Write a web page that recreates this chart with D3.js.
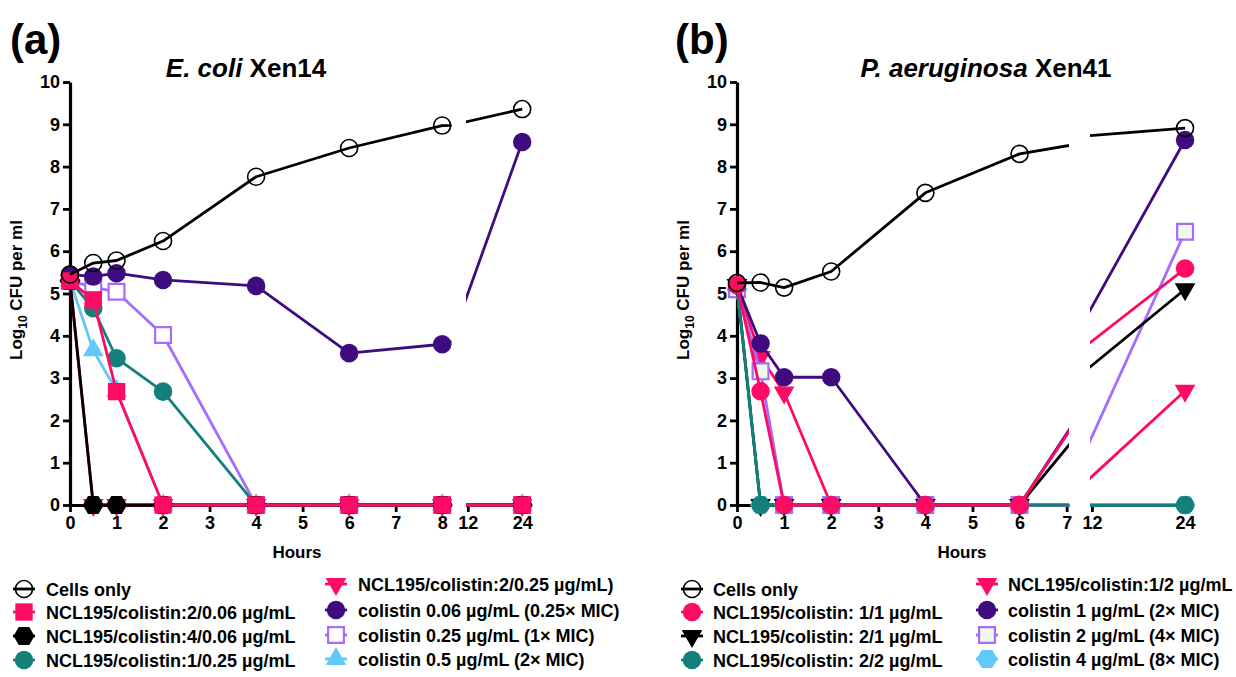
<!DOCTYPE html>
<html>
<head>
<meta charset="utf-8">
<script src="https://cdn.jsdelivr.net/npm/d3@7"></script>
<style>
  body { margin: 0; background: #fff; }
  text { font-family: "Liberation Sans", Arial, sans-serif; font-weight: bold; }
</style>
</head>
<body>
<svg id="chart" width="1236" height="677"></svg>
<script>
// ---------- data (a) E. coli Xen14 ----------
var hoursA = [0, 0.5, 1, 2, 4, 6, 8, 24];
var labelsA = [
  "Cells only",
  "NCL195/colistin:2/0.06 µg/mL",
  "NCL195/colistin:4/0.06 µg/mL",
  "NCL195/colistin:1/0.25 µg/mL",
  "NCL195/colistin:2/0.25 µg/mL)",
  "colistin 0.06 µg/mL (0.25× MIC)",
  "colistin 0.25 µg/mL (1× MIC)",
  "colistin 0.5 µg/mL (2× MIC)"
];
var cellsA   = [5.45, 5.72, 5.78, 6.24, 7.76, 8.44, 8.97, 9.36];
var ncl2_006 = [5.3, 4.85, 2.68, 0, 0, 0, 0, 0];
var ncl4_006 = [5.3, 0, 0, 0, 0, 0, 0, 0];
var ncl1_025 = [5.3, 4.65, 3.47, 2.68, 0, 0, 0, 0];
var ncl2_025 = [5.3, 0, 0, 0, 0, 0, 0, 0];
var col006   = [5.45, 5.4, 5.48, 5.32, 5.18, 3.59, 3.8, 8.58];
var col025   = [5.3, 5.15, 5.04, 4.02, 0, 0, 0, 0];
var col05    = [5.3, 3.66, 2.7, 0, 0, 0, 0, 0];

// ---------- data (b) P. aeruginosa Xen41 (8 h values fall inside the axis break) ----------
var hoursB = [0, 0.5, 1, 2, 4, 6, 8, 24];
var labelsB = [
  "Cells only",
  "NCL195/colistin: 1/1 µg/mL",
  "NCL195/colistin: 2/1 µg/mL",
  "NCL195/colistin: 2/2 µg/mL",
  "NCL195/colistin:1/2 µg/mL",
  "colistin 1 µg/mL (2× MIC)",
  "colistin 2 µg/mL (4× MIC)",
  "colistin 4 µg/mL (8× MIC)"
];
var cellsB = [5.25, 5.26, 5.14, 5.52, 7.38, 8.3, 8.68, 8.91];
var ncl1_1 = [5.2, 2.69, 0, 0, 0, 0, 3.3, 5.59];
var ncl2_1 = [5.2, 0, 0, 0, 0, 0, 2.7, 5.1];
var ncl2_2 = [5.2, 0, 0, 0, 0, 0, 0, 0];
var ncl1_2 = [5.2, 3.5, 2.66, 0, 0, 0, 0, 2.7];
var col1   = [5.2, 3.82, 3.02, 3.02, 0, 0, 3.37, 8.63];
var col2   = [5.1, 3.16, 0, 0, 0, 0, 0, 6.46];
var col4   = [5.1, 0, 0, 0, 0, 0, 0, 0];

// ---------- axis ticks ----------
var yTicks = [0, 1, 2, 3, 4, 5, 6, 7, 8, 9, 10];
var xTicksA1 = [0, 1, 2, 3, 4, 5, 6, 7, 8];
var xTicksB1 = [0, 1, 2, 3, 4, 5, 6, 7];
var xTicks2 = [12, 24];

var pink = "#ff0a64", black = "#000000", teal = "#148079", indigo = "#3f0c80",
    purple = "#a46cff", sky = "#62c8f6";

var svg = d3.select("#chart");

function hexPath(r) {
  var pts = d3.range(6).map(function(i) {
    var a = i * Math.PI / 3;
    return [r * Math.cos(a), r * Math.sin(a)];
  });
  return "M" + pts.join("L") + "Z";
}

// draws one marker centred at 0,0 inside g
function marker(g, shape, color, fill) {
  var p;
  if (shape == "openCircle") {
    g.append("path").attr("d", d3.symbol(d3.symbolCircle, 227)())
      .attr("fill", "none").attr("stroke", black).attr("stroke-width", 1.6);
    return;
  }
  if (shape == "circle") p = g.append("path").attr("d", d3.symbol(d3.symbolCircle, 270)());
  if (shape == "square") p = g.append("path").attr("d", d3.symbol(d3.symbolSquare, 300)());
  if (shape == "hexagon") p = g.append("path").attr("d", hexPath(10.5));
  if (shape == "triangle") p = g.append("path").attr("d", d3.symbol(d3.symbolTriangle, 185)());
  if (shape == "triangleDown") p = g.append("path").attr("d", d3.symbol(d3.symbolTriangle, 185)())
      .attr("transform", "rotate(180)");
  if (shape == "openSquare") {
    g.append("path").attr("d", d3.symbol(d3.symbolSquare, 250)())
      .attr("fill", fill).attr("stroke", color).attr("stroke-width", 2.2);
    return;
  }
  p.attr("fill", color);
}

function drawPanel(p) {
  var root = svg.append("g");
  var y = d3.scaleLinear().domain([0, 10]).range([505, 82]);
  var x1 = d3.scaleLinear().domain(p.seg1).range(p.seg1Px);
  var x2 = d3.scaleLinear().domain(p.seg2).range(p.seg2Px);

  // clip regions for the two axis segments
  var defs = root.append("defs");
  defs.append("clipPath").attr("id", p.id + "c1").append("rect")
    .attr("x", p.seg1Px[0] - 30).attr("y", 0).attr("width", p.seg1Px[1] - p.seg1Px[0] + 30).attr("height", 677);
  defs.append("clipPath").attr("id", p.id + "c2").append("rect")
    .attr("x", p.seg2Px[0]).attr("y", 0).attr("width", p.seg2Px[1] - p.seg2Px[0] + 30).attr("height", 677);

  // axes
  function styleAxis(g) {
    g.attr("font-family", null).attr("font-size", null).attr("color", black);
    g.select(".domain").attr("stroke-width", 3.2);
    g.selectAll(".tick line").attr("stroke-width", 2.8);
    g.selectAll(".tick text").attr("font-size", 18).attr("font-weight", "bold");
  }
  var fmt = d3.format("d");
  root.append("g").attr("transform", "translate(" + p.seg1Px[0] + ",0)")
    .call(d3.axisLeft(y).tickValues(yTicks).tickFormat(fmt).tickSize(7).tickSizeOuter(0).tickPadding(3))
    .call(styleAxis);
  root.append("g").attr("transform", "translate(0,505)")
    .call(d3.axisBottom(x1).tickValues(p.ticks1).tickFormat(fmt).tickSize(7).tickSizeOuter(0).tickPadding(4))
    .call(styleAxis);
  root.append("g").attr("transform", "translate(0,505)")
    .call(d3.axisBottom(x2).tickValues(xTicks2).tickFormat(fmt).tickSize(7).tickSizeOuter(0).tickPadding(4))
    .call(styleAxis);

  // series, drawn bottom to top
  p.order.forEach(function(i) {
    var s = p.series[i];
    var pts = p.hours.map(function(h, k) { return { h: h, v: s.values[k] }; });
    [[x1, "c1", p.seg1], [x2, "c2", p.seg2]].forEach(function(seg) {
      var xs = seg[0];
      var line = d3.line().x(function(d) { return xs(d.h); }).y(function(d) { return y(d.v); });
      root.append("path").attr("d", line(pts))
        .attr("clip-path", "url(#" + p.id + seg[1] + ")")
        .attr("fill", "none").attr("stroke", s.color).attr("stroke-width", 2.8)
        .attr("stroke-linejoin", "round");
      pts.filter(function(d) { return d.h >= seg[2][0] && d.h <= seg[2][1]; }).forEach(function(d) {
        var g = root.append("g").attr("transform", "translate(" + xs(d.h) + "," + y(d.v) + ")");
        marker(g, s.shape, s.color, s.fill);
      });
    });
  });

  // titles
  root.append("text").attr("x", p.tagX).attr("y", 54).attr("font-size", 42).text(p.tag);
  var t = root.append("text").attr("x", p.titleX).attr("y", 77).attr("font-size", 26)
    .attr("text-anchor", "middle");
  t.append("tspan").attr("font-style", "italic").text(p.titleIt);
  t.append("tspan").text(" " + p.titleRest);

  var yt = root.append("text").attr("transform", "translate(" + p.yTitleX + ",290) rotate(-90)")
    .attr("text-anchor", "middle").attr("font-size", 17);
  yt.append("tspan").text("Log");
  yt.append("tspan").attr("font-size", 12).attr("dy", 5).text("10");
  yt.append("tspan").attr("dy", -5).text(" CFU per ml");

  root.append("text").attr("x", (p.seg1Px[0] + p.seg2Px[1]) / 2).attr("y", 558)
    .attr("text-anchor", "middle").attr("font-size", 17).text("Hours");

  // legend, two columns of four
  p.series.forEach(function(s, i) {
    var col = i < 4 ? 0 : 1, row = i % 4;
    var sx = p.legX[col], ty = p.legY[col][row];
    var g = root.append("g").attr("transform", "translate(" + sx + "," + ty + ")");
    g.append("line").attr("x1", -11).attr("x2", 11).attr("stroke", s.color).attr("stroke-width", 2.8);
    marker(g, s.shape, s.color, s.fill);
    root.append("text").attr("x", sx + p.legGap).attr("y", ty + 6.5).attr("font-size", 18).text(p.labels[i]);
  });
}

drawPanel({
  id: "pa", tag: "(a)", tagX: 10, titleX: 246, titleIt: "E. coli", titleRest: "Xen14", yTitleX: 22,
  hours: hoursA, labels: labelsA,
  seg1: [0, 8.2], seg1Px: [70, 451.5], seg2: [11.6, 24.4], seg2Px: [466, 524],
  ticks1: xTicksA1,
  series: [
    { values: cellsA,   color: black,  shape: "openCircle" },
    { values: ncl2_006, color: pink,   shape: "square" },
    { values: ncl4_006, color: black,  shape: "hexagon" },
    { values: ncl1_025, color: teal,   shape: "circle" },
    { values: ncl2_025, color: pink,   shape: "triangleDown" },
    { values: col006,   color: indigo, shape: "circle" },
    { values: col025,   color: purple, shape: "openSquare", fill: "#ffffff" },
    { values: col05,    color: sky,    shape: "triangle" }
  ],
  order: [7, 6, 5, 4, 3, 2, 1, 0],
  legX: [24, 336], legGap: 22,
  legY: [[589, 612, 636, 660], [584, 610, 635, 659]]
});

drawPanel({
  id: "pb", tag: "(b)", tagX: 675, titleX: 986, titleIt: "P. aeruginosa", titleRest: "Xen41", yTitleX: 689,
  hours: hoursB, labels: labelsB,
  seg1: [0, 7.05], seg1Px: [737, 1069], seg2: [11.75, 24.25], seg2Px: [1090, 1187],
  ticks1: xTicksB1,
  series: [
    { values: cellsB, color: black,  shape: "openCircle" },
    { values: ncl1_1, color: pink,   shape: "circle" },
    { values: ncl2_1, color: black,  shape: "triangleDown" },
    { values: ncl2_2, color: teal,   shape: "circle" },
    { values: ncl1_2, color: pink,   shape: "triangleDown" },
    { values: col1,   color: indigo, shape: "circle" },
    { values: col2,   color: purple, shape: "openSquare", fill: "#eefbea" },
    { values: col4,   color: sky,    shape: "hexagon" }
  ],
  order: [4, 7, 6, 5, 2, 3, 1, 0],
  legX: [692, 987], legGap: 21,
  legY: [[589, 612, 636, 660], [584, 610, 635, 659]]
});
</script>
</body>
</html>
